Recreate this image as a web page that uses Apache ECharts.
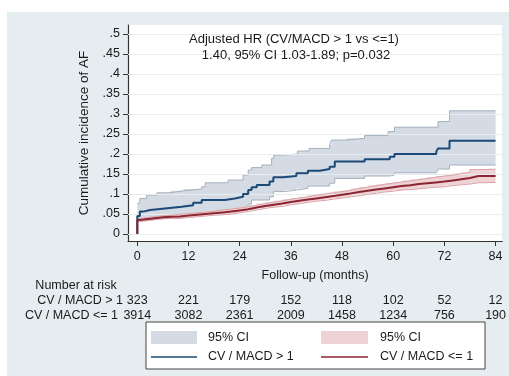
<!DOCTYPE html>
<html><head><meta charset="utf-8">
<script src="https://cdn.jsdelivr.net/npm/echarts@6/dist/echarts.min.js"></script>
<style>html,body{margin:0;padding:0;background:#fff}#c{width:509px;height:376px}</style>
</head><body><div id="c"></div>
<script>
// ---- tick labels ----
const xTicks = [0, 12, 24, 36, 48, 60, 72, 84];
const yTicks = [0, 0.05, 0.1, 0.15, 0.2, 0.25, 0.3, 0.35, 0.4, 0.45, 0.5];
const yTickLabels = ['0', '.05', '.1', '.15', '.2', '.25', '.3', '.35', '.4', '.45', '.5'];

// ---- number at risk ----
const riskHigh = [323, 221, 179, 152, 118, 102, 52, 12];
const riskLow = [3914, 3082, 2361, 2009, 1458, 1234, 756, 190];

// ---- CV/MACD > 1 (step function) ----
const highX = [0, 0, 0.6, 1.4, 3, 6.5, 10.4, 13.1, 15.1, 20.5, 22.9, 24.8, 26, 26.8, 28, 31, 31.9, 34.2, 37.3, 40, 42.8, 45.1, 46.3, 53.3, 59.2, 60.3, 70.1, 70.5, 73.2, 84];
const highY = [0, 0.045, 0.056, 0.060, 0.064, 0.068, 0.072, 0.078, 0.085, 0.089, 0.093, 0.100, 0.110, 0.117, 0.1225, 0.131, 0.142, 0.145, 0.152, 0.158, 0.1625, 0.168, 0.181, 0.187, 0.193, 0.200, 0.206, 0.214, 0.233, 0.233];
const highUpX = [0, 0.6, 2.2, 4.6, 7.7, 10.8, 15.1, 15.9, 21.3, 24.8, 26, 26.8, 29.2, 31.5, 32, 34.2, 37.6, 40.3, 45.1, 45.5, 49, 53.3, 58.8, 60.3, 70.5, 73.2, 84];
const highUpY = [0.077, 0.089, 0.0975, 0.103, 0.108, 0.1125, 0.118, 0.128, 0.135, 0.1475, 0.160, 0.166, 0.1725, 0.189, 0.1975, 0.200, 0.2075, 0.214, 0.2225, 0.235, 0.239, 0.246, 0.256, 0.267, 0.281, 0.308, 0.308];
const highLoX = [0, 0.6, 3, 6.5, 10.4, 13.1, 15.1, 20.5, 22.9, 24.8, 26, 26.8, 31, 31.9, 34.6, 37.3, 40, 45.1, 46.3, 53.3, 59.2, 60.3, 70.1, 70.5, 73.2, 84];
const highLoY = [0.034, 0.036, 0.039, 0.042, 0.046, 0.049, 0.052, 0.058, 0.062, 0.067, 0.075, 0.085, 0.093, 0.106, 0.110, 0.114, 0.120, 0.127, 0.139, 0.145, 0.1475, 0.153, 0.156, 0.1625, 0.1725, 0.1725];

// ---- CV/MACD <= 1 ----
const lowX = [0, 0.5, 1.5, 3, 4.5, 6, 8, 10, 12, 14, 16, 18, 20, 22, 24, 26, 28, 30, 32, 34, 36, 38, 40, 42, 44, 46, 48, 50, 52, 54, 56, 58, 60, 62, 64, 66, 68, 70, 72, 74, 76, 78, 80, 84];
const lowY = [0.035, 0.036, 0.038, 0.040, 0.042, 0.043, 0.044, 0.046, 0.048, 0.050, 0.052, 0.054, 0.056, 0.059, 0.062, 0.066, 0.070, 0.073, 0.076, 0.080, 0.083, 0.086, 0.089, 0.092, 0.095, 0.098, 0.101, 0.105, 0.108, 0.111, 0.114, 0.117, 0.120, 0.122, 0.125, 0.127, 0.129, 0.131, 0.134, 0.137, 0.140, 0.145, 0.145, 0.145];
const lowLoY = [0.031, 0.032, 0.034, 0.036, 0.038, 0.039, 0.039, 0.041, 0.043, 0.045, 0.047, 0.048, 0.050, 0.053, 0.056, 0.060, 0.064, 0.067, 0.069, 0.073, 0.076, 0.079, 0.082, 0.084, 0.087, 0.090, 0.093, 0.096, 0.099, 0.102, 0.105, 0.107, 0.110, 0.111, 0.113, 0.115, 0.117, 0.118, 0.121, 0.123, 0.125, 0.128, 0.129, 0.129];
const lowUpY = [0.039, 0.040, 0.042, 0.044, 0.046, 0.047, 0.049, 0.051, 0.053, 0.055, 0.057, 0.060, 0.062, 0.065, 0.068, 0.072, 0.076, 0.080, 0.083, 0.087, 0.090, 0.093, 0.097, 0.100, 0.103, 0.106, 0.109, 0.114, 0.117, 0.121, 0.124, 0.127, 0.130, 0.133, 0.136, 0.139, 0.142, 0.145, 0.147, 0.151, 0.154, 0.161, 0.162, 0.162];

const C = {
  bg: '#e6edf0', blue: '#1c4a78', red: '#8c2532',
  greyFill: '#d4dbe4', greyEdge: '#a5b0bc',
  pinkFill: '#efd2d4', pinkEdge: '#d9a2a7', text: '#1a1a1a'
};
const FONT = 'Liberation Sans, Arial, sans-serif';

const zip = (xs, ys) => xs.map((x, i) => [x, ys[i]]);

function bandRender(loX, loY, upX, upY, fill) {
  return function (params, api) {
    const pts = [];
    for (let i = 0; i < upX.length; i++) {
      pts.push(api.coord([upX[i], upY[i]]));
      if (i + 1 < upX.length) pts.push(api.coord([upX[i + 1], upY[i]]));
    }
    for (let i = loX.length - 1; i >= 0; i--) {
      if (i + 1 < loX.length) pts.push(api.coord([loX[i + 1], loY[i]]));
      pts.push(api.coord([loX[i], loY[i]]));
    }
    return { type: 'polygon', shape: { points: pts }, style: { fill: fill } };
  };
}

const XMIN = -2.18, XMAX = 85.56, YMIN = -0.0175, YMAX = 0.5225;
const idxOf = (arr, v) => arr.findIndex(a => Math.abs(a - v) < 1e-9);

function riskAxis(vals, offset) {
  return {
    type: 'value', gridIndex: 0, min: XMIN, max: XMAX, position: 'bottom', offset: offset,
    axisLine: { show: false, onZero: false }, axisTick: { show: false }, splitLine: { show: false },
    axisLabel: {
      customValues: xTicks, margin: 8, color: C.text, fontFamily: FONT, fontSize: 12.5,
      formatter: v => { const i = idxOf(xTicks, v); return i >= 0 ? String(vals[i]) : ''; }
    }
  };
}

function stepLine(data, color, width, z) {
  return { type: 'line', step: 'end', data: data, symbol: 'none', silent: true, animation: false,
    lineStyle: { color: color, width: width }, z: z };
}

const chart = echarts.init(document.getElementById('c'), null, { renderer: 'canvas' });
chart.setOption({
  animation: false,
  backgroundColor: '#fff',
  textStyle: { fontFamily: FONT },
  grid: { left: 128, right: 6, top: 25, bottom: 135, show: true, backgroundColor: '#fff', borderWidth: 0 },
  xAxis: [
    {
      type: 'value', min: XMIN, max: XMAX,
      name: 'Follow-up (months)', nameLocation: 'middle', nameGap: 28,
      nameTextStyle: { color: C.text, fontFamily: FONT, fontSize: 12.5 },
      axisLine: { show: true, onZero: false, lineStyle: { color: '#333', width: 1.2 } },
      axisTick: { show: true, customValues: xTicks, length: 5, lineStyle: { color: '#333' } },
      axisLabel: { customValues: xTicks, margin: 9, color: C.text, fontFamily: FONT, fontSize: 12.5 },
      splitLine: { show: false }
    },
    riskAxis(riskHigh, 45),
    riskAxis(riskLow, 60)
  ],
  yAxis: {
    type: 'value', min: YMIN, max: YMAX,
    name: 'Cumulative incidence of AF', nameLocation: 'middle', nameGap: 34,
    nameTextStyle: { color: C.text, fontFamily: FONT, fontSize: 13.5 },
    axisLine: { show: true, onZero: false, lineStyle: { color: '#333', width: 1.2 } },
    axisTick: { show: true, customValues: yTicks, length: 5, lineStyle: { color: '#333' } },
    axisLabel: {
      customValues: yTicks, margin: 8, color: C.text, fontFamily: FONT, fontSize: 12.5,
      formatter: v => { const i = idxOf(yTicks, v); return i >= 0 ? yTickLabels[i] : ''; }
    },
    splitLine: { show: false }
  },
  graphic: [
    { type: 'rect', z: -10, silent: true, shape: { x: 7, y: 12, width: 502, height: 364 }, style: { fill: C.bg } },
    { type: 'text', x: 294, y: 39, z: 10, silent: true, style: { text: 'Adjusted HR (CV/MACD > 1 vs <=1)', fill: C.text, font: '13px ' + FONT, align: 'center', verticalAlign: 'middle' } },
    { type: 'text', x: 296, y: 55, z: 10, silent: true, style: { text: '1.40, 95% CI 1.03-1.89; p=0.032', fill: C.text, font: '13px ' + FONT, align: 'center', verticalAlign: 'middle' } },
    { type: 'text', x: 76, y: 286, silent: true, style: { text: 'Number at risk', fill: C.text, font: '12.5px ' + FONT, align: 'center', verticalAlign: 'middle' } },
    { type: 'text', x: 123, y: 301, silent: true, style: { text: 'CV / MACD > 1', fill: C.text, font: '12.5px ' + FONT, align: 'right', verticalAlign: 'middle' } },
    { type: 'text', x: 118, y: 316, silent: true, style: { text: 'CV / MACD <= 1', fill: C.text, font: '12.5px ' + FONT, align: 'right', verticalAlign: 'middle' } },
    // legend
    { type: 'rect', silent: true, shape: { x: 146, y: 322, width: 339, height: 47 }, style: { fill: '#fff', stroke: '#444', lineWidth: 1 } },
    { type: 'rect', silent: true, shape: { x: 151, y: 331, width: 46, height: 13 }, style: { fill: C.greyFill } },
    { type: 'text', x: 208, y: 338, silent: true, style: { text: '95% CI', fill: C.text, font: '12.5px ' + FONT, verticalAlign: 'middle' } },
    { type: 'rect', silent: true, shape: { x: 321, y: 331, width: 47, height: 13 }, style: { fill: C.pinkFill } },
    { type: 'text', x: 380, y: 338, silent: true, style: { text: '95% CI', fill: C.text, font: '12.5px ' + FONT, verticalAlign: 'middle' } },
    { type: 'line', silent: true, shape: { x1: 151, y1: 357, x2: 197, y2: 357 }, style: { stroke: C.blue, lineWidth: 1.5 } },
    { type: 'text', x: 208, y: 357, silent: true, style: { text: 'CV / MACD > 1', fill: C.text, font: '12.5px ' + FONT, verticalAlign: 'middle' } },
    { type: 'line', silent: true, shape: { x1: 321, y1: 357, x2: 368, y2: 357 }, style: { stroke: C.red, lineWidth: 1.5 } },
    { type: 'text', x: 380, y: 357, silent: true, style: { text: 'CV / MACD <= 1', fill: C.text, font: '12.5px ' + FONT, verticalAlign: 'middle' } }
  ],
  series: [
    {
      type: 'line', data: [[0, 0]], symbol: 'none', silent: true, z: 1, lineStyle: { width: 0 },
      markLine: {
        silent: true, symbol: 'none', label: { show: false }, animation: false,
        lineStyle: { color: '#e8edf0', width: 1, type: 'solid' },
        data: yTicks.map(v => ({ yAxis: v }))
      }
    },
    { type: 'custom', data: [[0, 0]], silent: true, z: 2, renderItem: bandRender(highLoX, highLoY, highUpX, highUpY, C.greyFill) },
    stepLine(zip(highUpX, highUpY), C.greyEdge, 1, 3),
    stepLine(zip(highLoX, highLoY), C.greyEdge, 1, 3),
    { type: 'custom', data: [[0, 0]], silent: true, z: 4, renderItem: bandRender(lowX, lowLoY, lowX, lowUpY, C.pinkFill) },
    stepLine(zip(lowX, lowUpY), C.pinkEdge, 1, 5),
    stepLine(zip(lowX, lowLoY), C.pinkEdge, 1, 5),
    stepLine(zip(highX, highY), C.blue, 2, 6),
    stepLine([[0, 0]].concat(zip(lowX, lowY)), C.red, 2, 7)
  ]
});
</script></body></html>
